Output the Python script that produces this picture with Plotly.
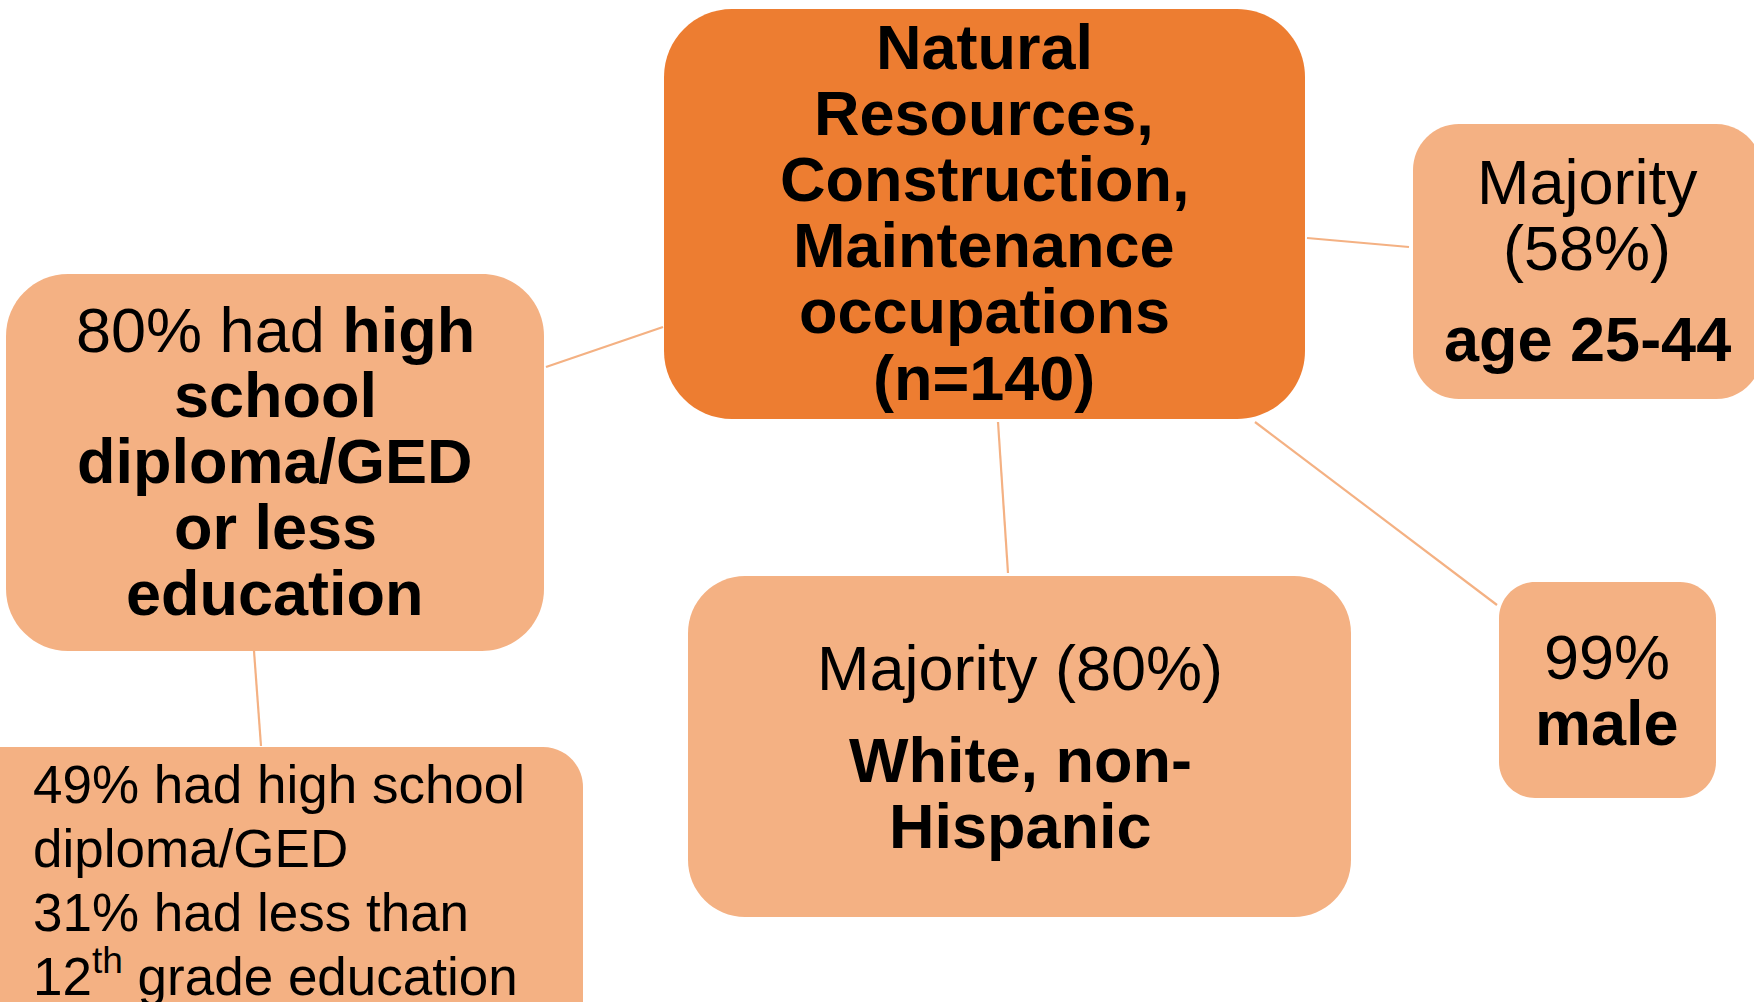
import plotly.graph_objects as go

# ---------------- content (text of each box, line by line) ----------------
center_lines = ["<b>Natural</b>", "<b>Resources,</b>", "<b>Construction,</b>",
                "<b>Maintenance</b>", "<b>occupations</b>", "<b>(n=140)</b>"]
education_lines = ["80% had <b>high</b>", "<b>school</b>", "<b>diploma/GED</b>",
                   "<b>or less</b>", "<b>education</b>"]
education_detail_lines = ["49% had high school", "diploma/GED",
                          "31% had less than", "12<sup>th</sup> grade education"]
age_lines = ["Majority", "(58%)", "<b>age 25-44</b>"]
race_lines = ["Majority (80%)", "<b>White, non-</b>", "<b>Hispanic</b>"]
sex_lines = ["99%", "<b>male</b>"]

# ---------------- geometry / styles ----------------
W, H = 1754, 1002
DARK = "#ED7D31"
LIGHT = "#F4B183"
FONT = "Liberation Sans, Arial, sans-serif"

boxes = {
    "center": dict(x0=664, y0=9, x1=1305, y1=419, r=68, fill=DARK),
    "edu": dict(x0=6, y0=274, x1=544, y1=651, r=62, fill=LIGHT),
    "edu2": dict(x0=-80, y0=747, x1=583, y1=1080, r=40, fill=LIGHT),
    "age": dict(x0=1413, y0=124, x1=1762, y1=399, r=46, fill=LIGHT),
    "race": dict(x0=688, y0=576, x1=1351, y1=917, r=57, fill=LIGHT),
    "sex": dict(x0=1499, y0=582, x1=1716, y1=798, r=36, fill=LIGHT),
}

connectors = [
    ((663, 327), (546, 367)),
    ((1307, 238), (1409, 247)),
    ((998, 422), (1008, 573)),
    ((1255, 422), (1497, 605)),
    ((254, 651), (261, 746)),
]

text_blocks = [
    (center_lines, 984, [47, 113, 179, 245, 311, 378], 63, "center"),
    (education_lines, 275, [330, 395, 461, 527, 593], 63, "center"),
    (education_detail_lines, 31, [784, 848, 912, 972], 53, "left"),
    (age_lines, 1587, [182, 248, 339], 63, "center"),
    (race_lines, 1020, [668, 760, 826], 63, "center"),
    (sex_lines, 1607, [657, 723], 63, "center"),
]


def rrect(x0, y0, x1, y1, r):
    k = 0.5523 * r
    return (f"M{x0 + r},{y0} L{x1 - r},{y0} "
            f"C{x1 - r + k},{y0} {x1},{y0 + r - k} {x1},{y0 + r} "
            f"L{x1},{y1 - r} "
            f"C{x1},{y1 - r + k} {x1 - r + k},{y1} {x1 - r},{y1} "
            f"L{x0 + r},{y1} "
            f"C{x0 + r - k},{y1} {x0},{y1 - r + k} {x0},{y1 - r} "
            f"L{x0},{y0 + r} "
            f"C{x0},{y0 + r - k} {x0 + r - k},{y0} {x0 + r},{y0} Z")


fig = go.Figure()
shapes = []
for (xa, ya), (xb, yb) in connectors:
    shapes.append(dict(type="line", xref="x", yref="y", x0=xa, y0=ya, x1=xb, y1=yb,
                       line=dict(color=LIGHT, width=2.2), layer="above"))
for b in boxes.values():
    shapes.append(dict(type="path", xref="x", yref="y",
                       path=rrect(b["x0"], b["y0"], b["x1"], b["y1"], b["r"]),
                       fillcolor=b["fill"], line=dict(width=0), layer="above"))

annotations = []
for lines, x, ys, size, align in text_blocks:
    for txt, y in zip(lines, ys):
        annotations.append(dict(x=x, y=y, xref="x", yref="y", text=txt, showarrow=False,
                                xanchor=align, yanchor="middle", align=align,
                                font=dict(family=FONT, size=size, color="black")))

fig.update_layout(
    width=W, height=H, margin=dict(l=0, r=0, t=0, b=0),
    paper_bgcolor="white", plot_bgcolor="white",
    xaxis=dict(range=[0, W], visible=False, fixedrange=True),
    yaxis=dict(range=[H, 0], visible=False, fixedrange=True),
    shapes=shapes, annotations=annotations, showlegend=False,
)
fig.write_html("out.html", config={"displayModeBar": False},
               post_script="document.body.style.margin='0';document.body.style.overflow='hidden';")
